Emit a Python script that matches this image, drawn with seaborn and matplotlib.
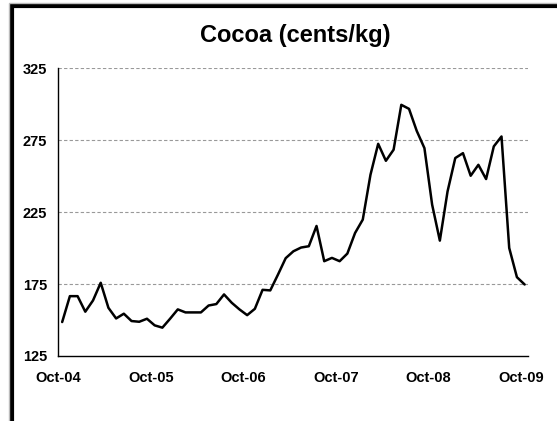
import pandas as pd
import matplotlib
matplotlib.use("Agg")
import matplotlib.pyplot as plt
import seaborn as sns
from matplotlib.patches import Rectangle

# monthly cocoa price, Oct-04 .. Oct-09 (cents/kg)
prices = [148.6, 166.6, 166.6, 155.8, 163.6, 175.9, 158.5, 151.1, 154.4, 149.3,
          148.8, 150.9, 146.3, 144.7, 150.9, 157.4, 155.3, 155.3, 155.3, 160.1,
          161.1, 167.8, 162.0, 157.4, 153.4, 157.8, 171.0, 170.6, 181.6, 193.0,
          197.8, 200.4, 201.3, 215.4, 190.9, 193.2, 190.9, 196.2, 210.5, 219.8,
          251.0, 272.5, 260.7, 268.4, 299.6, 296.8, 281.5, 269.5, 230.2, 205.2,
          239.4, 262.6, 266.0, 250.3, 257.9, 248.0, 270.7, 277.6, 200.1, 179.8,
          174.7]
tick_labels = ["Oct-04", "Oct-05", "Oct-06", "Oct-07", "Oct-08", "Oct-09"]
y_ticks = [125, 175, 225, 275, 325]

df = pd.DataFrame({"month": [i + 0.5 for i in range(len(prices))], "price": prices})

sns.set_style("white")
plt.rcParams['font.family'] = ['Liberation Sans Narrow', 'Liberation Sans', 'DejaVu Sans']
plt.rcParams['text.color'] = 'black'
plt.rcParams['xtick.color'] = 'black'
plt.rcParams['ytick.color'] = 'black'

fig = plt.figure(figsize=(5.57, 4.21), dpi=100)
ax = fig.add_axes([0.1047, 0.1544, 0.8441, 0.6834])

sns.lineplot(data=df, x="month", y="price", color="black", linewidth=1.8, ax=ax)

ax.set_xlim(0, 61)
ax.set_ylim(125, 325)
ax.set_xticks(range(0, 61, 12))
ax.set_xticklabels(tick_labels)
ax.set_yticks(y_ticks)
ax.set_xlabel("")
ax.set_ylabel("")

for v in y_ticks[1:]:
    ax.axhline(v, color="#999999", linestyle=(0, (3, 2)), linewidth=0.8, zorder=0)

for s in ["top", "right"]:
    ax.spines[s].set_visible(False)
for s in ["left", "bottom"]:
    ax.spines[s].set_color("black")
    ax.spines[s].set_linewidth(1.0)

ax.tick_params(axis="both", direction="out", length=5, width=1, color="black",
               labelcolor="black", labelsize=10.5, pad=3)
ax.tick_params(axis="x", pad=6)
for lab in ax.get_xticklabels() + ax.get_yticklabels():
    lab.set_fontweight("bold")

fig.text(0.53, 0.915, "Cocoa (cents/kg)", ha="center", va="center", color="black",
         fontsize=17, fontweight="bold", family=["Liberation Sans", "DejaVu Sans"])

# chart frame: only the top and left edges fall inside the picture
fig.patches.append(Rectangle((11.5 / 557, -0.1), 1.2, 1.1 - 6.3 / 421,
                             transform=fig.transFigure, fill=False,
                             edgecolor="black", linewidth=3))
fig.patches.append(Rectangle((8.5 / 557, -0.1), 1.2, 1.1 - 3.0 / 421,
                             transform=fig.transFigure, fill=False,
                             edgecolor="#bbbbbb", linewidth=1))

fig.savefig("out.png", dpi=100)
